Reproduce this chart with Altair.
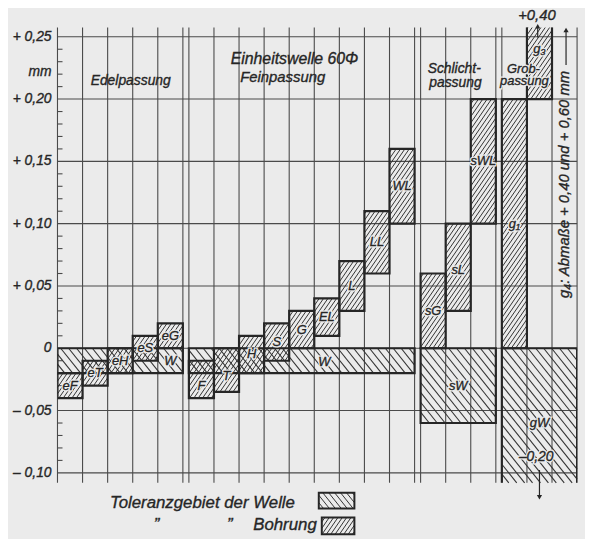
import math
import altair as alt
import pandas as pd

# ---------------- data ----------------
groups = ["Edelpassung", "Feinpassung", "Schlichtpassung", "Grobpassung"]
group_cols = [5, 9, 3, 3]

# Toleranzgebiet der Welle (one per group, spans all columns of the group)
welle_names = ["W", "W", "sW", "gW"]
welle_upper = [0.0, 0.0, 0.0, 0.0]
welle_lower = [-0.02, -0.02, -0.06, -0.20]

# Toleranzgebiet der Bohrung
bohr_names = ["eF", "eT", "eH", "eS", "eG",
              "F", "T", "H", "S", "G", "EL", "L", "LL", "WL",
              "sG", "sL", "sWL",
              "g\u2081", "g\u2083"]
bohr_group = [0] * 5 + [1] * 9 + [2] * 3 + [3] * 2
bohr_col = [0, 1, 2, 3, 4,
            0, 1, 2, 3, 4, 5, 6, 7, 8,
            0, 1, 2,
            0, 1]
bohr_upper = [-0.02, -0.01, 0.00, 0.01, 0.02,
              -0.01, 0.00, 0.01, 0.02, 0.03, 0.04, 0.07, 0.11, 0.16,
              0.06, 0.10, 0.20,
              0.20, 0.40]
bohr_lower = [-0.04, -0.03, -0.02, -0.01, 0.00,
              -0.04, -0.035, -0.02, -0.01, 0.00, 0.01, 0.03, 0.06, 0.10,
              0.00, 0.03, 0.10,
              0.00, 0.20]

y_ticks = [-0.10, -0.05, 0.0, 0.05, 0.10, 0.15, 0.20, 0.25]
y_tick_labels = ["\u2013 0,10", "\u2013 0,05", "0", "+ 0,05", "+ 0,10",
                 "+ 0,15", "+ 0,20", "+ 0,25"]
minor_ticks = [v / 100 for v in range(-10, 26) if v % 5 != 0]

# ---------------- layout ----------------
GAP = 0.24
W, H = 525, 460
YMIN, YMAX = -0.108, 0.2574
starts = []
acc = 0.0
for n in group_cols:
    starts.append(acc)
    acc += n + GAP
XMAX = acc - GAP

INK = "#262626"
HATCH = "#333333"
GRID = "#4a4a4a"
BG = "#ebebeb"
FONT = "Liberation Sans, DejaVu Sans, sans-serif"


def sx(x):
    return x / XMAX * W


def sy(y):
    return (YMAX - y) / (YMAX - YMIN) * H


def ix(px):
    return px / W * XMAX


def iy(py):
    return YMAX - py / H * (YMAX - YMIN)


def hatch(x0, x1, ylo, yhi, kind, spacing, slope, clip=True):
    if clip:
        ylo = max(ylo, YMIN)
        yhi = min(yhi, YMAX)
    px0, px1 = sx(x0), sx(x1)
    py0, py1 = sy(yhi), sy(ylo)
    m = slope
    step = m * spacing
    segs = []
    if kind == "/":
        cmin, cmax = m * px0 + py0, m * px1 + py1
        for k in range(math.ceil(cmin / step), math.floor(cmax / step) + 1):
            c = k * step
            a = max(px0, (c - py1) / m)
            b = min(px1, (c - py0) / m)
            if b - a > 0.2:
                segs.append(dict(x=ix(a), y=iy(c - m * a), x2=ix(b), y2=iy(c - m * b)))
    else:
        cmin, cmax = m * px0 - py1, m * px1 - py0
        for k in range(math.ceil(cmin / step), math.floor(cmax / step) + 1):
            c = k * step
            a = max(px0, (py0 + c) / m)
            b = min(px1, (py1 + c) / m)
            if b - a > 0.2:
                segs.append(dict(x=ix(a), y=iy(m * a - c), x2=ix(b), y2=iy(m * b - c)))
    return segs


# rectangles
rects = []
hatch_w, hatch_b = [], []
for g, (nm, up, lo) in enumerate(zip(welle_names, welle_upper, welle_lower)):
    x0 = starts[g]
    x1 = starts[g] + group_cols[g]
    rects.append(dict(x=x0, x2=x1, y=up, y2=lo))
    hatch_w += hatch(x0, x1, lo, up, "\\", 8.0, 1.25)
for nm, g, c, up, lo in zip(bohr_names, bohr_group, bohr_col, bohr_upper, bohr_lower):
    x0 = starts[g] + c
    rects.append(dict(x=x0, x2=x0 + 1, y=up, y2=lo))
    hatch_b += hatch(x0, x0 + 1, lo, up, "/", 4.4, 1.45)

# labels in the bars
label_override = {"F": -0.03, "T": -0.022, "g\u2083": 0.24, "sL": 0.063}
labels = []
for nm, g, c, up, lo in zip(bohr_names, bohr_group, bohr_col, bohr_upper, bohr_lower):
    yc = label_override.get(nm, (min(up, YMAX) + max(lo, YMIN)) / 2)
    labels.append(dict(x=starts[g] + c + 0.5, y=yc, t=nm))
welle_label_pos = [(4.5, -0.0105), (5.4, -0.011), (1.5, -0.03), (1.5, -0.06)]
for g, (nm, (cx, cy)) in enumerate(zip(welle_names, welle_label_pos)):
    labels.append(dict(x=starts[g] + cx, y=cy, t=nm))
labels = pd.DataFrame(labels)

# grid
vlines = []
for g, n in enumerate(group_cols):
    for k in range(n + 1):
        vlines.append(dict(x=starts[g] + k, x2=starts[g] + k, y=YMIN, y2=YMAX))
hlines = [dict(x=0, x2=XMAX, y=v, y2=v) for v in y_ticks]
mticks = [dict(x=0, x2=0.2, y=v, y2=v) for v in minor_ticks]

xs = alt.Scale(domain=[0, XMAX], nice=False, zero=False)
ys = alt.Scale(domain=[YMIN, YMAX], nice=False, zero=False)


def enc4():
    return dict(x=alt.X("x:Q", scale=xs, axis=None),
                x2=alt.X2("x2:Q"),
                y=alt.Y("y:Q", scale=ys, axis=None),
                y2=alt.Y2("y2:Q"))


def enc2(text="t:N"):
    return dict(x=alt.X("x:Q", scale=xs, axis=None),
                y=alt.Y("y:Q", scale=ys, axis=None),
                text=alt.Text(text))


def txt(df, size, align="center", baseline="alphabetic", halo=False, **kw):
    out = []
    base = dict(font=FONT, fontStyle="italic", fontSize=size, align=align, baseline=baseline, **kw)
    if halo:
        out.append(alt.Chart(df).mark_text(color=BG, stroke=BG, strokeWidth=3, **base).encode(**enc2()))
    out.append(alt.Chart(df).mark_text(color=INK, stroke=INK, strokeWidth=0.35, **base).encode(**enc2()))
    return out


layers = []
layers.append(alt.Chart(pd.DataFrame(vlines + hlines)).mark_rule(color=GRID, strokeWidth=1.1).encode(**enc4()))
layers.append(alt.Chart(pd.DataFrame(mticks)).mark_rule(color=GRID, strokeWidth=1.1).encode(**enc4()))
layers.append(alt.Chart(pd.DataFrame(hatch_w)).mark_rule(color=HATCH, strokeWidth=1.1).encode(**enc4()))
layers.append(alt.Chart(pd.DataFrame(hatch_b)).mark_rule(color=HATCH, strokeWidth=1.0).encode(**enc4()))
layers.append(alt.Chart(pd.DataFrame(rects)).mark_rect(fill=None, stroke=INK, strokeWidth=2.2, clip=True).encode(**enc4()))

# bar labels with halo
layers += txt(labels, 13, baseline="middle", halo=True)

# y axis labels
yl = pd.DataFrame(dict(x=[0] * len(y_ticks) + [0], y=y_ticks + [0.2214], t=y_tick_labels + ["mm"]))
layers += txt(yl, 14, align="right", baseline="middle", dx=-6)

# group titles and annotations (baseline alphabetic)
layers += txt(pd.DataFrame([dict(x=2.92, y=0.2115, t="Edelpassung")]), 14)
layers += txt(pd.DataFrame([dict(x=9.45, y=0.2283, t="Einheitswelle 60\u03a6")]), 16)
layers += txt(pd.DataFrame([dict(x=8.98, y=0.2137, t="Feinpassung")]), 15)
layers += txt(pd.DataFrame([dict(x=15.82, y=0.2210, t="Schlicht-"),
                            dict(x=15.87, y=0.2100, t="passung")]), 14)
layers += txt(pd.DataFrame([dict(x=18.58, y=0.2212, t="Grob-"),
                            dict(x=18.62, y=0.2110, t="passung")]), 13, halo=True)
layers += txt(pd.DataFrame([dict(x=19.12, y=0.2634, t="+0,40")]), 15)
layers += txt(pd.DataFrame([dict(x=19.09, y=-0.0905, t="\u20130,20")]), 14, halo=True)
layers += txt(pd.DataFrame([dict(x=20.2, y=0.1315, t="g\u2084: Abma\u00dfe + 0,40 und + 0,60 mm")]),
              15, baseline="middle", angle=270)

# arrows
arrows = pd.DataFrame([
    dict(x=19.15, x2=19.15, y=0.2495, y2=0.2570),
    dict(x=20.28, x2=20.28, y=0.2273, y2=0.2540),
    dict(x=19.22, x2=19.22, y=-0.0977, y2=-0.1180),
])
layers.append(alt.Chart(arrows).mark_rule(color=INK, strokeWidth=1.2).encode(**enc4()))
heads_up = pd.DataFrame([dict(x=19.15, y=0.2585), dict(x=20.28, y=0.2555)])
heads_dn = pd.DataFrame([dict(x=19.22, y=-0.1195)])
layers.append(alt.Chart(heads_up).mark_point(shape="triangle-up", filled=True, size=28, color=INK, opacity=1)
              .encode(x=alt.X("x:Q", scale=xs, axis=None), y=alt.Y("y:Q", scale=ys, axis=None)))
layers.append(alt.Chart(heads_dn).mark_point(shape="triangle-down", filled=True, size=28, color=INK, opacity=1)
              .encode(x=alt.X("x:Q", scale=xs, axis=None), y=alt.Y("y:Q", scale=ys, axis=None)))

# legend
legend_rects = [dict(x=10.42, x2=11.84, y=-0.1160, y2=-0.1287),
                dict(x=10.54, x2=11.84, y=-0.1358, y2=-0.1493)]
lh = hatch(10.42, 11.84, -0.1287, -0.1160, "\\", 6, 1.25, clip=False)
lh += hatch(10.54, 11.84, -0.1493, -0.1358, "/", 4.4, 1.45, clip=False)
layers.append(alt.Chart(pd.DataFrame(lh)).mark_rule(color=HATCH, strokeWidth=1.0).encode(**enc4()))
layers.append(alt.Chart(pd.DataFrame(legend_rects)).mark_rect(fill=None, stroke=INK, strokeWidth=2).encode(**enc4()))
layers += txt(pd.DataFrame([dict(x=9.47, y=-0.1279, t="Toleranzgebiet der Welle"),
                            dict(x=10.34, y=-0.1461, t="Bohrung")]), 17, align="right")
layers += txt(pd.DataFrame([dict(x=3.95, y=-0.1461, t="\u201d"),
                            dict(x=6.87, y=-0.1461, t="\u201d")]), 17)

chart = alt.layer(*layers).properties(
    width=W, height=H,
    autosize=alt.AutoSizeParams(type="none"),
    padding={"left": 50, "top": 17, "right": 8, "bottom": 54},
).configure(background=BG).configure_view(stroke=None)

chart.save("out.html", embed_options={"renderer": "svg", "actions": False})
